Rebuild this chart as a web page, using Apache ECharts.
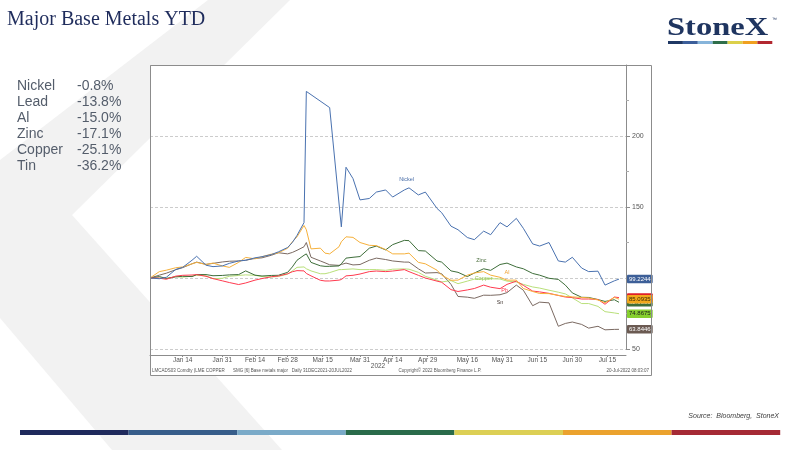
<!DOCTYPE html>
<html>
<head>
<meta charset="utf-8">
<title>Major Base Metals YTD</title>
<script src="https://cdn.jsdelivr.net/npm/echarts@6/dist/echarts.min.js"></script>
<style>
  html, body { margin: 0; padding: 0; background: #fff; }
  #main { width: 800px; height: 450px; }
</style>
</head>
<body>
<div id="main"></div>
<script>
// sample dates (index = 100 on 31 Dec 2021)
var dates = [
  '2021-12-31','2022-01-04','2022-01-07','2022-01-11','2022-01-14','2022-01-18','2022-01-20','2022-01-24','2022-01-27','2022-01-31',
  '2022-02-03','2022-02-07','2022-02-10','2022-02-14','2022-02-17','2022-02-21','2022-02-24','2022-02-28','2022-03-02','2022-03-04',
  '2022-03-07','2022-03-08','2022-03-10','2022-03-14','2022-03-16','2022-03-18','2022-03-22','2022-03-23','2022-03-25','2022-03-28',
  '2022-03-31','2022-04-04','2022-04-07','2022-04-11','2022-04-14','2022-04-19','2022-04-21','2022-04-25','2022-04-28','2022-05-03',
  '2022-05-05','2022-05-09','2022-05-12','2022-05-16','2022-05-19','2022-05-23','2022-05-26','2022-05-30','2022-06-02','2022-06-06',
  '2022-06-09','2022-06-13','2022-06-16','2022-06-20','2022-06-24','2022-06-27','2022-06-30','2022-07-04','2022-07-07','2022-07-11',
  '2022-07-14','2022-07-18','2022-07-20'
];

var nickel = [
  100, 99.5, 100.5, 106, 107.5, 112.5, 115.3, 109, 108, 108.5,
  110.3, 112, 112.5, 114.2, 115, 116.5, 118.4, 121.5, 125, 130,
  139, 231.4, null, null, null, 220, null, 136, 178, 170,
  155, 156, 160.5, 162, 157, 162, 163.5, 158.5, 160.5, 149,
  146, 136.5, 134, 128.5, 127, 133, 130.5, 139, 136, 142,
  135, 124, 122.5, 125, 112, 111.2, 114.6, 107, 104.5, 104.8,
  95, 98, 99.2244
];
var aluminium = [
  100, 104.5, 105.5, 107.2, 107.8, 110, 111, 109.5, 110.5, 108.5,
  107.5, 111, 114.5, 113.5, 115, 116.8, 117.7, 121, 125.5, 129,
  137, 134, 120.5, 121, 117.5, 117, 122, 125.5, 129, 128.6,
  125, 123, 122.8, 120, 117, 117, 117.5, 111, 110, 105.5,
  102, 98.4, 98.5, 102, 103.5, 104.5, 102, 100.5, 98.5, 98.5,
  92.6, 90.5, 89.1, 89, 87.8, 87, 86.7, 86.3, 86, 84.5,
  82.6, 86.3, 85.0935
];
var zinc = [
  100, 101, 99.7, 100.8, 101.2, 101, 102.4, 102.4, 101.6, 101.8,
  102.2, 102.4, 105, 102, 101.4, 101.8, 101.9, 104, 107.8, 112.5,
  116, 117, 111, 108.6, 108.2, 108.2, 108.5, 110, 114, 114.6,
  115.1, 121, 122.5, 119.8, 123.5, 126.5, 126.3, 119.3, 119, 112,
  111.2, 105, 104, 101, 103.5, 106.5, 105.4, 109.5, 110.5, 107.8,
  106.5, 103.2, 102, 99.8, 99, 95, 89.5, 86.4, 86.3, 84.8,
  83.5, 84.7, 82.9
];
var copper = [
  100, 100, 99.7, 101, 100.6, 101.3, 101.9, 101.5, 99.5, 99.8,
  101.2, 101.8, 102.2, 101.9, 101, 100.7, 101.1, 102.7, 105, 107.5,
  107.8, 106.5, 105, 103, 103, 103.8, 105.9, 105.9, 106.1, 106.4,
  105.9, 105.9, 105.9, 105.4, 106.2, 106.4, 106.2, 104, 101.2, 98.5,
  97.2, 98.2, 96, 97.8, 99.2, 99.2, 99.5, 99.3, 97.8, 97.2,
  95.5, 93.7, 92.9, 91.4, 90, 88.8, 86, 82, 82, 80,
  76.3, 75.4, 74.8675
];
var lead = [
  100, 99.9, 99.1, 101.3, 101.9, 102.1, 102.4, 101.2, 99.6, 98,
  96.8, 95.4, 96.5, 98.5, 99.6, 100.9, 101.4, 103, 104.4, 105.2,
  105, 103.2, 101.5, 98.4, 97.9, 97.9, 98.5, 98.9, 101.5, 101.9,
  102.8, 104.5, 104.9, 104.5, 104.9, 105.9, 104.5, 101.9, 100, 97.8,
  97, 91.8, 90.5, 91.6, 92.6, 95, 93.5, 92.5, 95.5, 97.8,
  94.8, 90.8, 90.2, 89.2, 87.7, 86.6, 86.2, 85.2, 85.2, 84.9,
  81.5, 86.6, 86.2
];
var tin = [
  100, 102, 103.4, 105.8, 107.3, 110, 111.2, 109.6, 110.3, 111.3,
  111.8, 112, 112.5, 113.8, 114.2, 116, 117.8, 117, 118, 119.5,
  122, 125, 114.6, 112, 110.7, 109.3, 108.9, 109.5, 110.5, 109.2,
  109.5, 112.5, 114, 113, 112, 111.2, 111.2, 106.5, 103.5, 103.8,
  103, 95.5, 87, 86.5, 85.7, 87.9, 87.8, 88.2, 89.7, 95,
  91.4, 80.5, 83, 82.5, 66, 68, 69, 67.3, 64.7, 66,
  63.5, 63.8, 63.8446
];

var tickDates = ['2022-01-14','2022-01-31','2022-02-14','2022-02-28','2022-03-15','2022-03-31',
  '2022-04-14','2022-04-29','2022-05-16','2022-05-31','2022-06-15','2022-06-30','2022-07-15'];

var metalNames = ['Nickel', 'Lead', 'Al', 'Zinc', 'Copper', 'Tin'];
var ytdChanges = ['-0.8%', '-13.8%', '-15.0%', '-17.1%', '-25.1%', '-36.2%'];

var months = ['Jan','Feb','Mar','Apr','May','Jun','Jul','Aug','Sep','Oct','Nov','Dec'];
var barColors = ['#1f2a5c', '#375d8a', '#7aaac8', '#2a6b4a', '#dccf55', '#eba22e', '#a52a35'];
var logoColors = ['#1f3864', '#3b5e9a', '#86b4da', '#2e6e4a', '#dcd04a', '#f0a020', '#b22830'];

var chart = echarts.init(document.getElementById('main'));

function ts(d) { return echarts.time.parse(d).getTime(); }

function pairs(values) {
  return dates.map(function (d, i) { return [ts(d), values[i] == null ? '-' : values[i]]; });
}

function makeSeries(name, values, color, box, boxText, tag) {
  return {
    name: name,
    type: 'line',
    data: pairs(values),
    symbol: 'none',
    connectNulls: true,
    lineStyle: { width: 1, color: color },
    itemStyle: { color: color },
    endLabel: {
      show: true,
      distance: 8,
      formatter: function (p) { return Number(p.value[1]).toFixed(4); },
      fontFamily: 'Liberation Sans',
      fontSize: 6,
      color: boxText,
      backgroundColor: box,
      padding: [1.5, 2, 1, 2],
      borderRadius: 1
    },
    markPoint: {
      silent: true,
      symbol: 'circle',
      symbolSize: 1,
      itemStyle: { color: 'rgba(0,0,0,0)' },
      label: {
        show: true,
        position: 'inside',
        formatter: tag.text,
        fontFamily: 'Liberation Sans',
        fontSize: 5.5,
        color: tag.color
      },
      data: [{ coord: [ts(tag.date), tag.value] }]
    }
  };
}

var graphics = [];
// background chevron
graphics.push({
  type: 'polygon', z: -20, silent: true,
  shape: { points: [[208, 0], [290, 0], [72, 215], [282, 450], [112, 450], [0, 318], [0, 160]] },
  style: { fill: '#f2f2f2' }
});
// chart frame
graphics.push({
  type: 'rect', z: -10, silent: true,
  shape: { x: 150.5, y: 65.5, width: 501, height: 310 },
  style: { fill: '#ffffff' }
});
graphics.push({
  type: 'rect', z: 100, silent: true,
  shape: { x: 150.5, y: 65.5, width: 501, height: 310 },
  style: { fill: null, stroke: '#8c8c8c', lineWidth: 1 }
});
// YTD list
metalNames.forEach(function (n, i) {
  graphics.push({
    type: 'text', x: 17, y: 86 + i * 16,
    style: { text: n, font: '14px "Liberation Sans"', fill: '#545d6b', textVerticalAlign: 'middle' }
  });
  graphics.push({
    type: 'text', x: 77, y: 86 + i * 16,
    style: { text: ytdChanges[i], font: '14px "Liberation Sans"', fill: '#545d6b', textVerticalAlign: 'middle' }
  });
});
// logo
graphics.push({
  type: 'text', x: 667, y: 29, scaleX: 1.3,
  style: { text: 'StoneX', font: 'bold 25px "Liberation Serif"', fill: '#1f3560', textVerticalAlign: 'middle' }
});
graphics.push({
  type: 'text', x: 772, y: 20,
  style: { text: '\u2122', font: '5px "Liberation Sans"', fill: '#1f3560', textVerticalAlign: 'middle' }
});
logoColors.forEach(function (c, i) {
  graphics.push({ type: 'rect', shape: { x: 668 + i * 14.9, y: 41, width: 14.9, height: 3 }, style: { fill: c } });
});
// bottom colour bar
barColors.forEach(function (c, i) {
  graphics.push({ type: 'rect', shape: { x: 20 + i * 108.6, y: 430, width: 108.6, height: 5 }, style: { fill: c } });
});
graphics.push({
  type: 'text', x: 779, y: 416,
  style: { text: 'Source:  Bloomberg,  StoneX', font: 'italic 7px "Liberation Sans"', fill: '#404040',
    textAlign: 'right', textVerticalAlign: 'middle' }
});
// Bloomberg footer
graphics.push({
  type: 'text', x: 152, y: 371,
  style: { text: 'LMCADS03 Comdty (LME COPPER', font: '4.5px "Liberation Sans"', fill: '#555', textVerticalAlign: 'middle' }
});
graphics.push({
  type: 'text', x: 233, y: 371,
  style: { text: 'SMG [6] Base metals major   Daily 31DEC2021-20JUL2022', font: '4.5px "Liberation Sans"', fill: '#555', textVerticalAlign: 'middle' }
});
graphics.push({
  type: 'text', x: 440, y: 371,
  style: { text: 'Copyright\u00a9 2022 Bloomberg Finance L.P.', font: '4.5px "Liberation Sans"', fill: '#555',
    textAlign: 'center', textVerticalAlign: 'middle' }
});
graphics.push({
  type: 'text', x: 649, y: 371,
  style: { text: '20-Jul-2022 08:03:07', font: '4.5px "Liberation Sans"', fill: '#555',
    textAlign: 'right', textVerticalAlign: 'middle' }
});

var option = {
  animation: false,
  backgroundColor: '#ffffff',
  title: {
    text: 'Major Base Metals YTD',
    left: 2,
    top: 5,
    textStyle: { fontFamily: 'Liberation Serif', fontSize: 20, fontWeight: 'normal', color: '#1f2c5c' }
  },
  grid: { left: 150, right: 174, top: 65, bottom: 101 },
  xAxis: {
    type: 'value',
    min: ts('2021-12-31'),
    max: ts('2022-07-23'),
    offset: 6,
    name: '2022',
    nameLocation: 'middle',
    nameGap: 8,
    nameMoveOverlap: false,
    nameTextStyle: { fontFamily: 'Liberation Sans', fontSize: 6.5, color: '#555', padding: [0, 20, 0, 0] },
    axisLine: { show: true, lineStyle: { color: '#8c8c8c' } },
    axisTick: { show: true, customValues: tickDates.map(ts), length: 2, lineStyle: { color: '#8c8c8c' } },
    axisLabel: {
      customValues: tickDates.map(ts),
      fontFamily: 'Liberation Sans',
      fontSize: 6.5,
      color: '#555',
      margin: 2,
      formatter: function (v) {
        var d = new Date(v);
        return months[d.getMonth()] + ' ' + d.getDate();
      }
    },
    splitLine: { show: false }
  },
  yAxis: {
    type: 'value',
    position: 'right',
    min: 50,
    max: 250,
    interval: 50,
    axisLine: { show: true, lineStyle: { color: '#8c8c8c' } },
    axisTick: { show: true, length: 4, lineStyle: { color: '#8c8c8c' } },
    minorTick: { show: true, splitNumber: 2, length: 3, lineStyle: { color: '#aaaaaa' } },
    axisLabel: {
      fontFamily: 'Liberation Sans',
      fontSize: 7,
      color: '#555',
      margin: 6,
      formatter: function (v) { return v === 250 ? '' : String(v); }
    },
    splitLine: { show: true, lineStyle: { type: [3, 2], color: '#cccccc' } }
  },
  graphic: { elements: graphics },
  series: [
    makeSeries('Sn', tin, '#7b6a62', '#6b5a52', '#ffffff',
      { text: 'Sn', date: '2022-05-30', value: 82.8, color: '#4a3f3a' }),
    makeSeries('Copper', copper, '#b9e07a', '#86cf2e', '#1a1a1a',
      { text: 'Copper', date: '2022-05-23', value: 100, color: '#9bc95c' }),
    makeSeries('Zinc', zinc, '#3e6e3a', '#3e6e3a', '#ffffff',
      { text: 'Zinc', date: '2022-05-22', value: 112.3, color: '#4b6e3e' }),
    makeSeries('Pb', lead, '#ff3a4f', '#e0202a', '#ffffff',
      { text: 'Pb', date: '2022-06-01', value: 91.4, color: '#ff3a4f' }),
    makeSeries('Al', aluminium, '#f6b13c', '#f2a81e', '#3a2a00',
      { text: 'Al', date: '2022-06-02', value: 104, color: '#f0a030' }),
    makeSeries('Nickel', nickel, '#4a72b0', '#3d5f98', '#ffffff',
      { text: 'Nickel', date: '2022-04-20', value: 169.5, color: '#4a6ea8' })
  ]
};

chart.setOption(option);
</script>
</body>
</html>
